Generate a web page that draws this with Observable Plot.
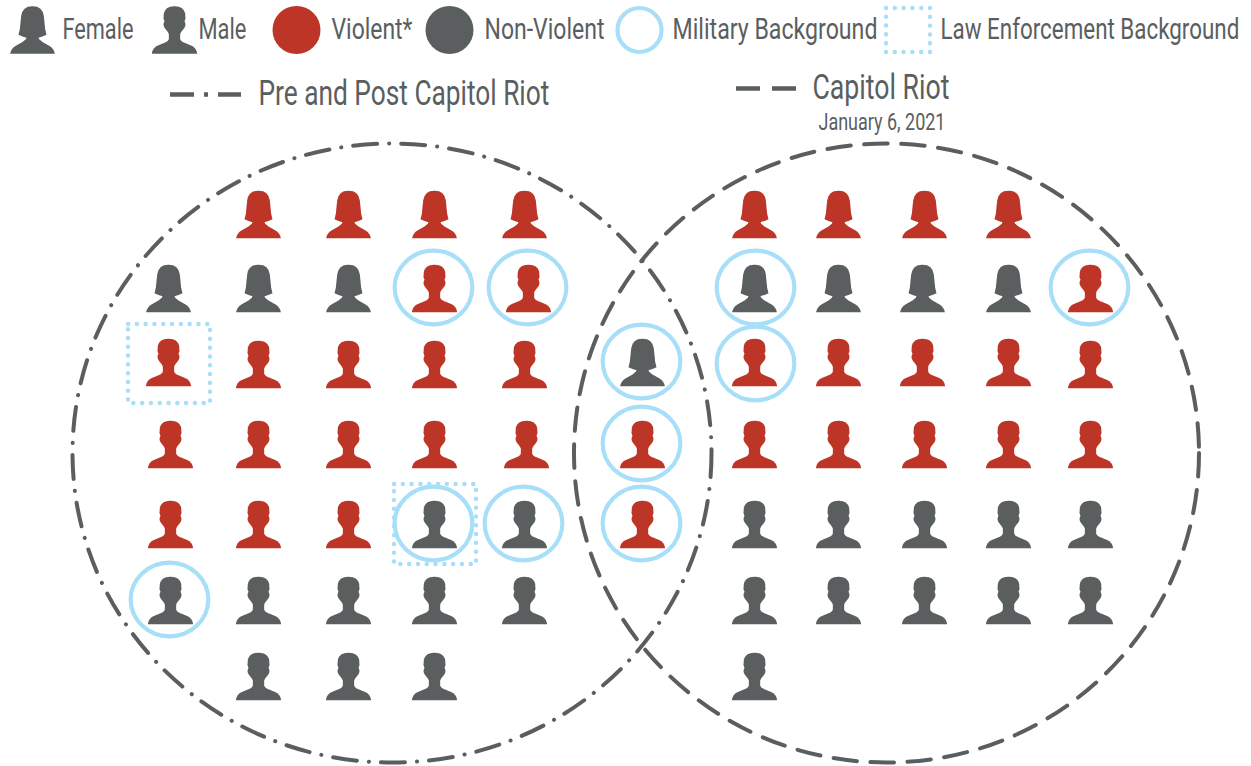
<!DOCTYPE html>
<html>
<head>
<meta charset="utf-8">
<style>html,body{margin:0;padding:0;background:#fff}svg{display:block}</style>
<script src="https://cdn.jsdelivr.net/npm/d3@7"></script>
<script src="https://cdn.jsdelivr.net/npm/@observablehq/plot@0.6"></script>
</head>
<body>
<div id="chart"></div>
<script>
// People: one entry per icon
const personX = [
  258,348,434,524, 168,258,348,434,528, 168,258,348,434,524, 170,258,348,434,526, 170,258,348,434,524, 170,258,348,434,524, 258,348,434,
  642,642,642,
  754,838,924,1008, 754,838,922,1008,1090, 754,838,922,1008,1090, 754,838,924,1008,1090, 754,838,924,1008,1090, 754,838,924,1008,1090, 754
];
const personY = [
  214,214,214,214, 288,288,288,288,288, 362,364,364,364,364, 444,444,444,444,444, 524,524,524,524,524, 600,600,600,600,600, 676,676,676,
  362,444,524,
  214,214,214,214, 288,288,288,288,288, 362,362,362,362,364, 444,444,444,444,444, 524,524,524,524,524, 600,600,600,600,600, 676
];
const personSex = [
  "F","F","F","F", "F","F","F","M","M", "M","M","M","M","M", "M","M","M","M","M", "M","M","M","M","M", "M","M","M","M","M", "M","M","M",
  "F","M","M",
  "F","F","F","F", "F","F","F","F","M", "M","M","M","M","M", "M","M","M","M","M", "M","M","M","M","M", "M","M","M","M","M", "M"
];
const personViolent = [
  1,1,1,1, 0,0,0,1,1, 1,1,1,1,1, 1,1,1,1,1, 1,1,1,0,0, 0,0,0,0,0, 0,0,0,
  0,1,1,
  1,1,1,1, 0,0,0,0,1, 1,1,1,1,1, 1,1,1,1,1, 0,0,0,0,0, 0,0,0,0,0, 0
];
const militaryX = [433,527,523,433,169, 641,641,641, 755,755,1089];
const militaryY = [287,287,523,523,599, 361,443,523, 287,363,287];
const lawX1 = [128,394]; const lawX2 = [210,476];
const lawY1 = [324,484]; const lawY2 = [403,564];
const vennNames = ["Pre and Post Capitol Riot","Capitol Riot"];
const vennX = [391.5,886];
const vennY = [452.5,452.5];

const legendLabels = ["Female","Male","Violent*","Non-Violent","Military Background","Law Enforcement Background"];
const legendLabelX = [62,198,331,484,672,940];
const legendLabelW = [71,48,81,120,205,299];

const GRAY = "#5a5e5f", RED = "#bc3527", BLUE = "#a8dff8";

const people = personX.map((x,i)=>({x, y:personY[i], sex:personSex[i], kind:personViolent[i]?"Violent":"Non-Violent"}));
const military = militaryX.map((x,i)=>({x, y:militaryY[i]}));
const law = lawX1.map((x1,i)=>({x1, x2:lawX2[i], y1:lawY1[i], y2:lawY2[i]}));

// Silhouettes, written as half outlines in a 144-unit tall box
function silhouette(half){
  return {draw(ctx,size){
    const k = Math.sqrt(size/Math.PI)/72;
    ctx.moveTo(0,half[0][1]*k);
    const walk = (pts,s)=>{ for(const p of pts){
      if(p.length===2) ctx.lineTo(s*p[0]*k,p[1]*k);
      else ctx.quadraticCurveTo(s*p[0]*k,p[1]*k,s*p[2]*k,p[3]*k);
    }};
    walk(half.slice(1),1);
    const rev=[];
    for(let i=half.length-1;i>0;i--){
      const cur=half[i], before=half[i-1];
      const end=before.length===2?[before[0],before[1]]:[before[2],before[3]];
      rev.push(cur.length===2?end:[cur[0],cur[1],end[0],end[1]]);
    }
    const last=half[half.length-1].slice(-2);
    ctx.lineTo(-last[0]*k,last[1]*k);
    walk(rev,-1);
    ctx.closePath();
  }};
}
const male = silhouette([
  [0,-71.5],[27,-72,32,-50],[33,-34],[30,-26],[36,-16,30,-7],[20,6],[17,12],[17,27],[18,34,30,38],[48,46],[66,52,68,71.5]
]);
const female = silhouette([
  [0,-71.5],[30,-72,34,-42],[38,-2],[42,14],[30,20,18,23],[20,28],[30,36],[50,47],[65,55,67,71.5]
]);
function ellipse(aspect){
  return {draw(ctx,size){
    const ry=Math.sqrt(size/Math.PI), rx=ry*aspect, c=0.5523;
    ctx.moveTo(rx,0);
    ctx.bezierCurveTo(rx,c*ry,c*rx,ry,0,ry);
    ctx.bezierCurveTo(-c*rx,ry,-rx,c*ry,-rx,0);
    ctx.bezierCurveTo(-rx,-c*ry,-c*rx,-ry,0,-ry);
    ctx.bezierCurveTo(c*rx,-ry,rx,-c*ry,rx,0);
    ctx.closePath();
  }};
}

const FONT = "Roboto,'Liberation Sans',sans-serif";
const legendRows = legendLabels.map((t,i)=>({t,x:legendLabelX[i],w:legendLabelW[i]}));
const heads = [
  {t:"Pre and Post Capitol Riot",x:258,y:104,w:291,s:35},
  {t:"Capitol Riot",x:812,y:98.5,w:137,s:35},
  {t:"January 6, 2021",x:818,y:129,w:127,s:24}
];
const colorOpt = {domain:["Violent","Non-Violent"],range:[RED,GRAY]};

const plot = Plot.plot({
  width:1251,height:766,margin:0,
  style:{background:"#fff"},
  x:{domain:[0,1251],range:[0,1251],axis:null},
  y:{domain:[0,766],range:[0,766],axis:null},
  color:colorOpt,
  marks:[
    // Venn outlines
    Plot.dot([0],{x:()=>vennX[0],y:()=>vennY[0],r:309.5,symbol:ellipse(319.5/309.5),fill:"none",stroke:GRAY,strokeWidth:4,strokeLinecap:"round",strokeDasharray:"24 12 0.1 12"}),
    Plot.dot([0],{x:()=>vennX[1],y:()=>vennY[1],r:309.5,symbol:ellipse(312.5/309.5),fill:"none",stroke:GRAY,strokeWidth:4,strokeLinecap:"round",strokeDasharray:"23.5 13.5"}),
    // Backgrounds
    Plot.dot(military,{x:"x",y:"y",r:36.8,symbol:ellipse(1.055),fill:"none",stroke:BLUE,strokeWidth:4.2}),
    Plot.rect(law,{x1:"x1",x2:"x2",y1:"y1",y2:"y2",fill:"none",stroke:BLUE,strokeWidth:4.4,strokeLinecap:"round",strokeDasharray:"0.1 8.7"}),
    // People
    Plot.dot(people.filter(d=>d.sex==="F"),{x:"x",y:"y",r:24,symbol:female,fill:"kind"}),
    Plot.dot(people.filter(d=>d.sex==="M"),{x:"x",y:"y",r:24,symbol:male,fill:"kind"}),
    // Legend keys
    Plot.dot([32],{x:d=>d,y:()=>29.5,r:24,symbol:female,fill:()=>"Non-Violent"}),
    Plot.dot([174],{x:d=>d,y:()=>29.5,r:24,symbol:male,fill:()=>"Non-Violent"}),
    Plot.dot([296],{x:d=>d,y:()=>29.5,r:24,fill:()=>"Violent"}),
    Plot.dot([449],{x:d=>d,y:()=>29.5,r:24,fill:()=>"Non-Violent"}),
    Plot.dot([639],{x:d=>d,y:()=>29.5,r:22,fill:"none",stroke:BLUE,strokeWidth:4.2}),
    Plot.rect([0],{x1:()=>886,x2:()=>930,y1:()=>8,y2:()=>52,fill:"none",stroke:BLUE,strokeWidth:4.4,strokeLinecap:"round",strokeDasharray:"0.1 8.7"}),
    Plot.ruleY([94],{x1:()=>170,x2:()=>241,stroke:GRAY,strokeWidth:4.5,strokeDasharray:"24 10 4 10 23"}),
    Plot.ruleY([88],{x1:()=>736,x2:()=>796,stroke:GRAY,strokeWidth:4.5,strokeDasharray:"24 12 24"}),
    // Labels
    Plot.text(legendRows,{x:"x",y:()=>38.5,text:"t",textAnchor:"start",lineAnchor:"bottom",fontSize:30,fill:GRAY,fontFamily:FONT}),
    Plot.text(heads,{x:"x",y:"y",text:"t",textAnchor:"start",lineAnchor:"bottom",fontSize:d=>d.s,fill:GRAY,fontFamily:FONT})
  ]
});
document.getElementById("chart").append(plot);
// Condense each label horizontally to the width it has in the picture
const labelRows = [...legendRows,...heads];
d3.select(plot).selectAll("text").each(function(){
  const d = labelRows.find(r=>r.t===this.textContent);
  if(!d) return;
  const sx = d.w/this.getComputedTextLength();
  const tr = this.getAttribute("transform")||"";
  this.setAttribute("transform",`${tr} scale(${sx.toFixed(4)},1)`);
});
</script>
</body>
</html>
